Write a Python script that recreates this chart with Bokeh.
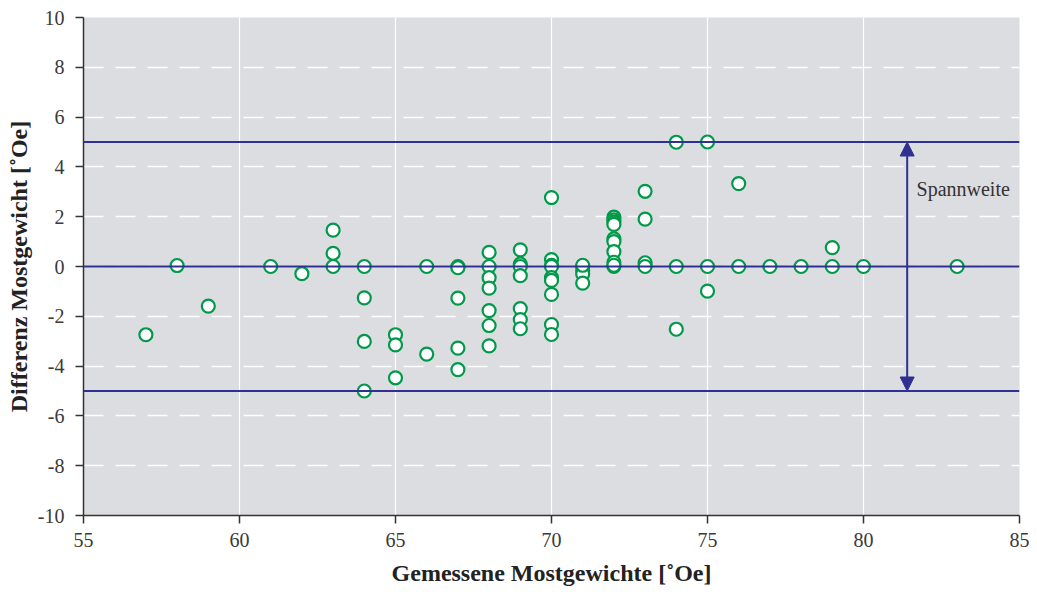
from bokeh.plotting import figure
from bokeh.models import Span, Arrow, NormalHead, Label, FixedTicker, ColumnDataSource, PrintfTickFormatter
from bokeh.embed import file_html
from bokeh.resources import INLINE

# Measured Mostgewicht [°Oe] and difference [°Oe]
meas = [57, 58, 59, 61, 62,
        63, 63, 63,
        64, 64, 64, 64,
        65, 65, 65,
        66, 66,
        67, 67, 67, 67, 67,
        68, 68, 68, 68, 68, 68, 68,
        69, 69, 69, 69, 69, 69, 69,
        70, 70, 70, 70, 70, 70, 70, 70, 70,
        71, 71, 71, 71, 71,
        72, 72, 72, 72, 72, 72, 72, 72, 72, 72,
        73, 73, 73, 73,
        74, 74, 74,
        75, 75, 75,
        76, 76, 77, 78, 79, 79, 80, 83]
diff = [-2.74, 0.04, -1.59, 0.0, -0.29,
        1.46, 0.53, 0.0,
        0.0, -1.26, -3.01, -5.0,
        -2.74, -3.15, -4.47,
        0.0, -3.52,
        0.0, -0.05, -1.27, -3.28, -4.14,
        0.57, 0.0, -0.45, -0.87, -1.77, -2.37, -3.19,
        0.67, 0.1, 0.0, -0.37, -1.69, -2.13, -2.5,
        2.77, 0.28, 0.05, 0.0, -0.45, -0.56, -1.12, -2.33, -2.73,
        0.0, -0.16, -0.3, -0.67, 0.05,
        1.98, 1.87, 1.78, 1.69, 1.11, 1.0, 0.6, 0.17, 0.0, 0.05,
        3.02, 1.9, 0.15, 0.0,
        4.99, 0.0, -2.52,
        5.0, 0.0, -0.99,
        3.33, 0.0, 0.0, 0.0, 0.76, 0.0, 0.0, 0.0]

ref_lines = [5.0, 0.0, -5.0]
span_x = 81.4
span_label = "Spannweite"
x_ticks = [55, 60, 65, 70, 75, 80, 85]
y_ticks = [-10, -8, -6, -4, -2, 0, 2, 4, 6, 8, 10]

BLUE = "#2e3192"
GREEN = "#00994a"
BG = "#dcdde0"
FONT = "Liberation Serif"

p = figure(frame_width=936, frame_height=498, x_range=(55, 85), y_range=(-10, 10),
           output_backend="svg", toolbar_location=None,
           min_border_left=83, min_border_right=10, min_border_top=17, min_border_bottom=70)
p.background_fill_color = BG
p.border_fill_color = "white"
p.outline_line_color = None

p.xaxis.ticker = FixedTicker(ticks=x_ticks)
p.yaxis.ticker = FixedTicker(ticks=y_ticks)
for ax in (p.xaxis, p.yaxis):
    ax.formatter = PrintfTickFormatter(format="%d")
    ax.axis_line_color = "#333333"
    ax.axis_line_width = 1.5
    ax.major_tick_line_color = "#333333"
    ax.major_tick_line_width = 1.5
    ax.major_tick_out = 8
    ax.major_tick_in = 0
    ax.minor_tick_line_color = None
    ax.major_label_text_font = FONT
    ax.major_label_text_font_size = "20px"
    ax.major_label_text_color = "#3a3a3a"
    ax.axis_label_text_font = FONT
    ax.axis_label_text_font_size = "24px"
    ax.axis_label_text_font_style = "bold"
    ax.axis_label_text_color = "#222222"
p.xaxis.axis_label = "Gemessene Mostgewichte [˚Oe]"
p.yaxis.axis_label = "Differenz Mostgewicht [˚Oe]"
p.yaxis.major_label_standoff = 11
p.xaxis.major_label_standoff = 9
p.xaxis.axis_label_standoff = 10
p.yaxis.axis_label_standoff = 3

p.xgrid.grid_line_color = "white"
p.xgrid.grid_line_width = 1.2
p.ygrid.grid_line_color = "white"
p.ygrid.grid_line_width = 1.5
p.ygrid.grid_line_dash = "20 12"

for yv in ref_lines:
    p.add_layout(Span(location=yv, dimension="width", line_color=BLUE, line_width=2))

p.add_layout(Arrow(x_start=span_x, y_start=0, x_end=span_x, y_end=ref_lines[0],
                   line_color=BLUE, line_width=2,
                   end=NormalHead(size=14, fill_color=BLUE, line_color=BLUE)))
p.add_layout(Arrow(x_start=span_x, y_start=0, x_end=span_x, y_end=ref_lines[2],
                   line_color=BLUE, line_width=2,
                   end=NormalHead(size=14, fill_color=BLUE, line_color=BLUE)))
p.add_layout(Label(x=span_x + 0.3, y=3.1, text=span_label, text_font=FONT,
                   text_font_size="20px", text_color="#333333", text_baseline="middle"))

src = ColumnDataSource(data=dict(x=meas, y=diff))
p.scatter("x", "y", source=src, size=13, fill_color="white",
          line_color=GREEN, line_width=2.2)

open("out.html", "w").write(file_html(p, INLINE))
